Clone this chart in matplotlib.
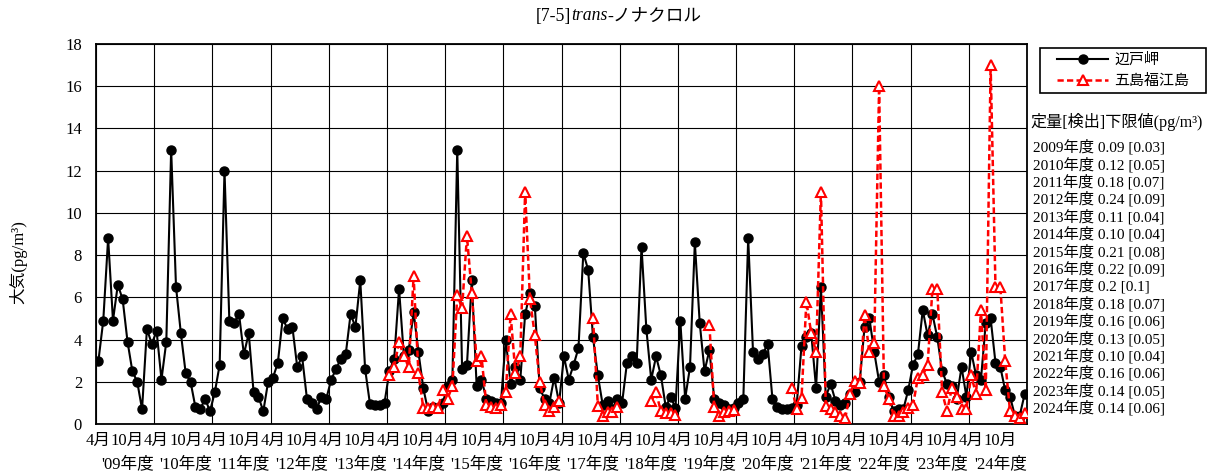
import matplotlib
matplotlib.use('Agg')
import matplotlib.pyplot as plt
import numpy as np
from matplotlib.offsetbox import TextArea, HPacker, AnchoredOffsetbox
from matplotlib.patches import Rectangle

nan = np.nan

# fiscal years on the x axis (April - March)
fiscal_years = ['09', '10', '11', '12', '13', '14', '15', '16',
                '17', '18', '19', '20', '21', '22', '23', '24']
month_labels = ['4月', '10月']

# monthly values (pg/m3), one row per fiscal year
hedo = [
    3.0, 4.9, 8.8, 4.9, 6.6, 5.9, 3.9, 2.5, 2.0, 0.7, 4.5, 3.8,     # 2009
    4.4, 2.1, 3.9, 13.0, 6.5, 4.3, 2.4, 2.0, 0.8, 0.7, 1.2, 0.6,    # 2010
    1.5, 2.8, 12.0, 4.9, 4.8, 5.2, 3.3, 4.3, 1.5, 1.3, 0.6, 2.0,    # 2011
    2.2, 2.9, 5.0, 4.5, 4.6, 2.7, 3.2, 1.2, 1.0, 0.7, 1.3, 1.2,     # 2012
    2.1, 2.6, 3.1, 3.3, 5.2, 4.6, 6.8, 2.6, 0.95, 0.9, 0.9, 1.0,    # 2013
    2.5, 3.1, 6.4, 3.2, 3.5, 5.3, 3.4, 1.7, 0.6, 0.8, 0.75, 1.0,    # 2014
    1.8, 2.1, 13.0, 2.6, 2.8, 6.8, 1.8, 2.1, 1.2, 1.1, 1.0, 1.0,    # 2015
    4.0, 1.9, 2.7, 2.1, 5.2, 6.2, 5.6, 1.7, 1.2, 1.0, 2.2, 1.0,     # 2016
    3.2, 2.1, 2.8, 3.6, 8.1, 7.3, 4.1, 2.3, 0.9, 1.1, 0.7, 1.2,     # 2017
    1.0, 2.9, 3.2, 2.9, 8.4, 4.5, 2.1, 3.2, 2.3, 0.8, 1.3, 0.75,    # 2018
    4.9, 1.2, 2.7, 8.6, 4.8, 2.5, 3.5, 1.2, 1.0, 0.9, 0.7, 0.75,    # 2019
    1.0, 1.2, 8.8, 3.4, 3.1, 3.3, 3.8, 1.2, 0.8, 0.7, 0.7, 0.75,    # 2020
    0.9, 3.7, 4.1, 4.3, 1.7, 6.5, 1.3, 1.9, 1.1, 0.9, 1.0, 1.4,     # 2021
    1.5, 2.0, 4.6, 5.0, 3.4, 2.0, 2.3, 1.3, 0.6, 0.7, 0.7, 1.6,     # 2022
    2.8, 3.3, 5.4, 4.2, 5.2, 4.1, 2.5, 1.9, 1.8, 1.2, 2.7, 1.3,     # 2023
    3.4, 2.3, 2.1, 4.8, 5.0, 2.9, 2.7, 1.6, 1.3, 0.4, 0.4, 1.4,     # 2024
]

goto = [nan] * 60 + [
    2.3, 2.7, 3.9, 3.2, 2.7, 7.0, 2.4, 0.75, 0.75, 0.8, 0.75, 1.6,  # 2014
    1.2, 1.8, 6.1, 5.5, 8.9, 6.2, 3.0, 3.2, 0.9, 0.8, 0.75, 0.9,    # 2015
    1.5, 5.2, 2.4, 3.2, 11.0, 5.9, 4.2, 2.0, 0.9, 0.6, 0.8, 1.1,    # 2016
    nan, nan, nan, nan, nan, nan, 5.0, 0.85, 0.4, 0.55, 0.55, 0.8,  # 2017
    nan, nan, nan, nan, nan, nan, 1.1, 1.5, 0.6, 0.5, 0.5, 0.45,    # 2018
    nan, nan, nan, nan, nan, nan, 4.7, 0.8, 0.4, 0.55, 0.6, 0.65,   # 2019
    nan, nan, nan, nan, nan, nan, nan, nan, nan, nan, nan, 1.7,     # 2020
    0.7, 1.25, 5.8, 4.3, 3.4, 11.0, 0.85, 0.7, 0.55, 0.4, 0.27, 1.4,  # 2021
    2.05, 1.95, 5.15, 3.4, 3.85, 16.0, 1.8, 1.2, 0.4, 0.4, 0.55, 0.75,  # 2022
    0.9, 2.2, 2.3, 2.8, 6.4, 6.4, 1.5, 0.6, 1.7, 1.3, 0.7, 0.7,     # 2023
    2.3, 1.4, 5.4, 1.6, 17.0, 6.5, 6.5, 3.0, 0.6, 0.4, 0.3, 0.5,    # 2024
]

# quantification [detection] limits per fiscal year
loq_years = list(range(2009, 2025))
loq = ['0.09', '0.12', '0.18', '0.24', '0.11', '0.10', '0.21', '0.22',
       '0.2', '0.18', '0.16', '0.13', '0.10', '0.16', '0.14', '0.14']
lod = ['0.03', '0.05', '0.07', '0.09', '0.04', '0.04', '0.08', '0.09',
       '0.1', '0.07', '0.06', '0.05', '0.04', '0.06', '0.05', '0.06']

plt.rcParams['font.family'] = ['Liberation Serif', 'Noto Sans CJK JP']
W, H = 1207, 476

fig = plt.figure(figsize=(W / 100, H / 100), dpi=100)
ax = fig.add_axes([96 / W, 52 / H, 931 / W, 380 / H])

x = np.arange(len(hedo))
ax.plot(x, hedo, color='black', lw=1.5, marker='o', ms=6.5,
        label='辺戸岬', zorder=3)
ax.plot(x, goto, color='red', lw=1.8, ls=(0, (2.5, 1.3)), marker='^', ms=7,
        mfc='white', mec='red', mew=1.5, label='五島福江島', zorder=4)

n_years = len(fiscal_years)
ax.set_xlim(-0.5, 12 * n_years - 0.5)
ax.set_ylim(0, 18)
ax.set_yticks(np.arange(0, 19, 2))
ax.set_xticks(np.arange(0, 12 * n_years + 1, 12) - 0.5)
ax.set_xticklabels([])
ax.tick_params(axis='both', length=0)
ax.tick_params(axis='y', labelsize=12, pad=10)
ax.grid(True, color='black', lw=0.8)
for s in ax.spines.values():
    s.set_linewidth(1.3)
    s.set_color('black')

# month / fiscal-year labels under the axis
tr = ax.get_xaxis_transform()
for k, fy in enumerate(fiscal_years):
    ax.text(12 * k, -17 / 380, month_labels[0], transform=tr,
            ha='center', va='center', fontsize=12)
    ax.text(12 * k + 6, -17 / 380, month_labels[1], transform=tr,
            ha='center', va='center', fontsize=12)
    ax.text(12 * k + 6, -40 / 380, "'" + fy + '年度', transform=tr,
            ha='center', va='center', fontsize=12)

# title with italic "trans"
parts = [TextArea('[7-5]', textprops=dict(fontsize=12.7)),
         TextArea('trans', textprops=dict(fontsize=12.7, style='italic')),
         TextArea('-ノナクロル', textprops=dict(fontsize=12.7))]
title = AnchoredOffsetbox(loc='center',
                          child=HPacker(children=parts, pad=0, sep=0, align='baseline'),
                          bbox_to_anchor=(619 / W, 1 - 16 / H),
                          bbox_transform=fig.transFigure, frameon=False,
                          pad=0, borderpad=0)
fig.add_artist(title)

fig.text(18 / W, 1 - 262 / H, '大気(pg/m³)', rotation=90,
         ha='center', va='center', fontsize=12)

# legend: frame drawn separately (behind the axes) so the box size matches
fig.add_artist(Rectangle((1040 / W, 1 - 93 / H), 166 / W, 45 / H,
                         transform=fig.transFigure, facecolor='white',
                         edgecolor='black', lw=1.2, zorder=-1))
leg = ax.legend(loc='center left', bbox_to_anchor=(1057 / W, 1 - 70.5 / H),
                bbox_transform=fig.transFigure,
                prop={'family': ['Noto Sans CJK JP'], 'size': 10.8},
                handlelength=3.4, handletextpad=0.4, labelspacing=0.45,
                borderpad=0, borderaxespad=0, frameon=False)

fig.text(1030 / W, 1 - 122 / H, '定量[検出]下限値(pg/m³)',
         ha='left', va='center', fontsize=11.6)
for k, yr in enumerate(loq_years):
    fig.text(1033 / W, 1 - (147 + 17.4 * k) / H,
             f'{yr}年度 {loq[k]} [{lod[k]}]',
             ha='left', va='center', fontsize=11)

fig.savefig('out.png', dpi=100)
